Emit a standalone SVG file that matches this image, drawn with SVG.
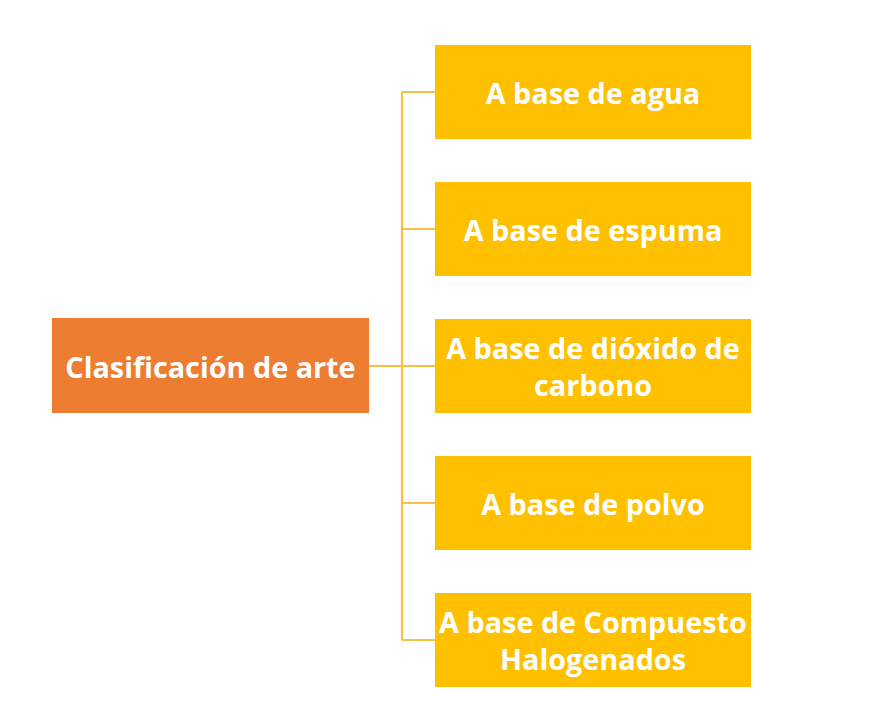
<svg xmlns="http://www.w3.org/2000/svg" width="890" height="724" viewBox="0 0 890 724">
<style>
.t{font-family:"Open Sans","Liberation Sans",sans-serif;font-weight:bold;font-size:28.8px;fill:#ffffff;text-anchor:middle;dominant-baseline:central}
.y{fill:#FFC000}
.c{stroke:#F5C242;stroke-width:2.2;fill:none}
</style>
<rect width="890" height="724" fill="#ffffff"/>
<g id="connectors">
<path class="c" d="M369,366H435M402,92V640M402,92H435M402,229H435M402,503H435M402,640H435"/>
</g>
<g id="root"><rect x="52" y="318" width="317" height="95" fill="#ED7D31"/><text class="t" x="210.5" y="366">Clasificación de arte</text></g>
<g id="n1"><rect class="y" x="435" y="45" width="316" height="94"/><text class="t" x="593" y="92">A base de agua</text></g>
<g id="n2"><rect class="y" x="435" y="182" width="316" height="94"/><text class="t" x="593" y="229">A base de espuma</text></g>
<g id="n3"><rect class="y" x="435" y="319" width="316" height="94"/><text class="t" x="593" y="347">A base de dióxido de</text><text class="t" x="593" y="384">carbono</text></g>
<g id="n4"><rect class="y" x="435" y="456" width="316" height="94"/><text class="t" x="593" y="503">A base de polvo</text></g>
<g id="n5"><rect class="y" x="435" y="593" width="316" height="94"/><text class="t" x="593" y="621">A base de Compuesto</text><text class="t" x="593" y="658">Halogenados</text></g>
</svg>
